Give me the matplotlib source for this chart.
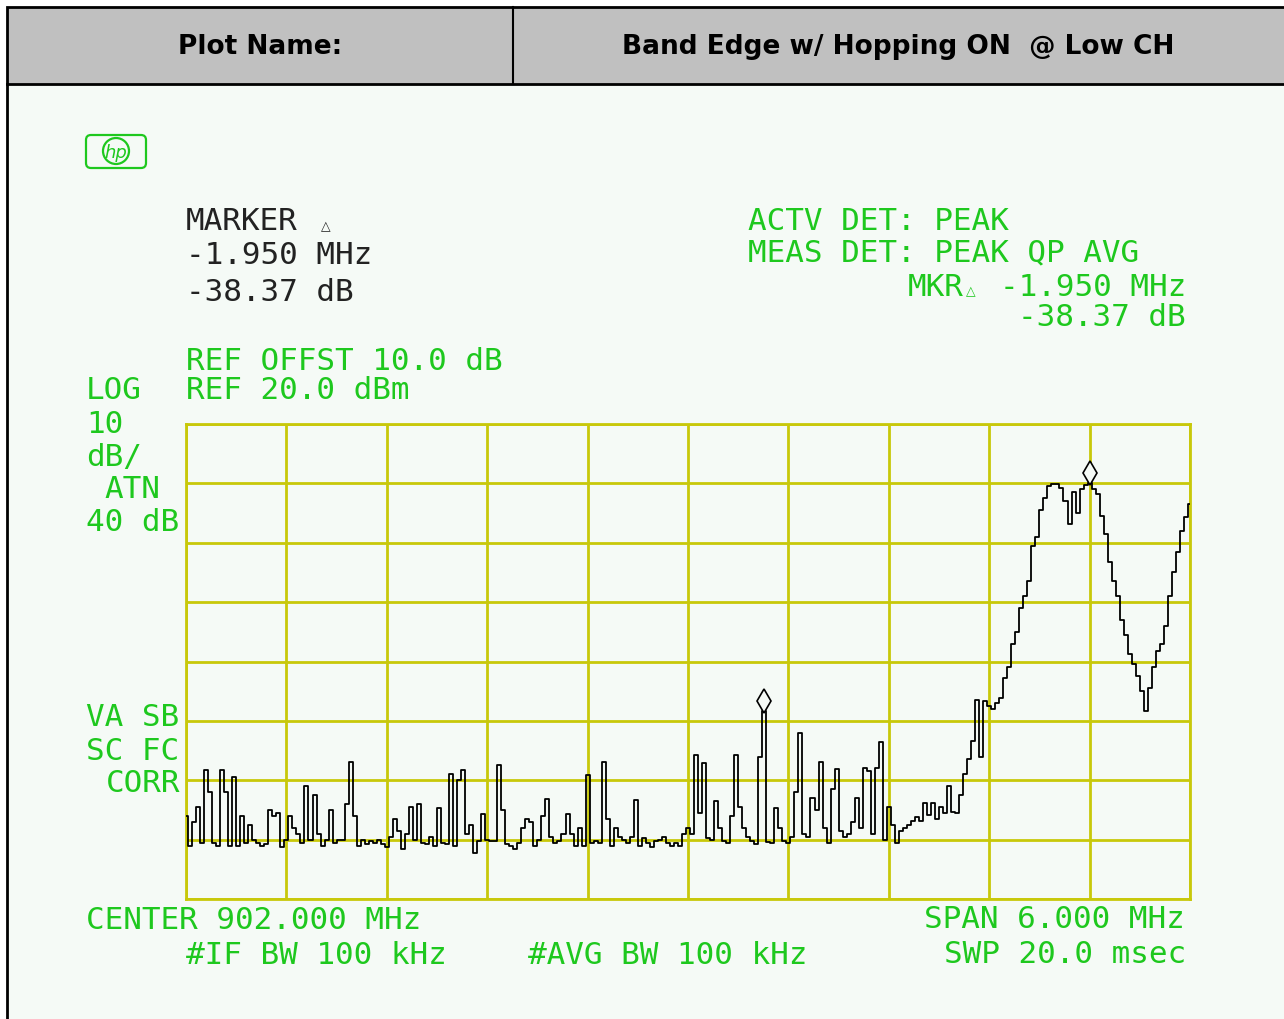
import numpy as np
import matplotlib
matplotlib.use('Agg')
import matplotlib.pyplot as plt
from matplotlib.patches import Rectangle, FancyBboxPatch, Circle

# spectrum trace (dBm), 251 sweep points across the span
trace_dbm = [
    -46, -51, -47, -44.5, -50.5, -38.2, -42, -50.5, -51, -38.2,
    -42, -51, -39.5, -51, -46, -50.5, -47.5, -50, -50.5, -51,
    -50.8, -45, -46, -45.5, -51.2, -50, -46, -48, -49, -50.5,
    -41, -50, -42.5, -49, -51, -50, -45, -50.5, -50, -50,
    -44, -36.9, -46, -51, -50, -50.8, -50.3, -50.5, -50, -50.7,
    -51.3, -49.5, -46.5, -48.5, -51.5, -49, -44.5, -50, -44, -50.5,
    -50.8, -49.5, -51,
    -44.6, -50.5, -50.8, -38.9, -51, -40, -38.2, -49, -47.5, -52.3,
    -50.3, -45.7, -50, -50.2, -50.3, -37.5, -45, -50.8, -51, -51.5,
    -50.5, -48, -46.5, -47, -51, -50, -46, -43.1, -49.5, -50.5,
    -50.2, -49, -45.7, -49, -51, -48, -51, -39.1, -50.5, -50.3,
    -50.5, -36.9, -46.5, -51, -48, -49.5, -50, -50.5, -49.5, -43.4,
    -51, -49.8, -50.5, -51.3, -50.2, -50, -49.5, -50.5, -51, -50.5,
    -51, -49,
    -48, -49, -35.7, -45.5, -37.1, -49.8, -50, -43.5, -48, -50.3,
    -50.5, -46, -35.7, -44.5, -48, -49.5, -50.2, -50.8, -36, -28.4,
    -50.4, -50.6, -44.6, -48, -50.3, -50.5, -49.6, -42, -32, -49.1,
    -49.5, -43, -45, -37, -48, -50.5, -41.5, -38.1, -48.5, -49.5,
    -49, -47, -43, -48, -37.9, -38.5, -49, -38, -33.5, -50,
    -44.5, -47.5, -50.5, -48.5, -48, -47.5, -46.8, -46.2, -46.8, -43.8,
    -45.8, -43.8, -46.5,
    -44.5, -45.5, -41, -45.3, -45.5, -42.5, -39, -36.5, -33.4, -26.4,
    -36, -26.6, -27.5, -28, -27, -26.1, -22.7, -21, -17, -15,
    -11, -8.9, -6.5, -0.5, 1, 5.5, 7.5, 9.5, 9.9, 9.9,
    9.3, 7, 3.1, 8.5, 5, 9, 9.8, 10.0, 9, 8.2,
    4.5, 1.5, -3.3, -6.5, -9, -13, -15.5, -18.7, -20.5, -22.5,
    -25, -28.3, -24.5, -21, -18.2, -17.1, -14, -9, -5, -1.5,
    2, 4.3, 6.5,
]
marker_idx = [144, 225]

center_mhz = 902.0
span_mhz = 6.0
ref_dbm = 20.0
db_per_div = 10.0

W, H = 1284, 1020
GREEN = '#1ec81e'
GRID = '#c8c80a'
BG = '#f5faf6'
DARK = '#222222'
MONO = 'DejaVu Sans Mono'

fig = plt.figure(figsize=(W / 100, H / 100), dpi=100)
fig.patch.set_facecolor('white')

# overlay in pixel coordinates for the frame and annotations
ov = fig.add_axes([0, 0, 1, 1], zorder=0)
ov.set_xlim(0, W)
ov.set_ylim(H, 0)
ov.axis('off')

ov.add_patch(Rectangle((8, 86), W - 8, H - 86, facecolor=BG, edgecolor='none'))
ov.add_patch(Rectangle((7, 8), W - 6, 77, facecolor='#c0c0c0', edgecolor='black', lw=2))
ov.plot([513, 513], [8, 85], color='black', lw=1.5)
ov.plot([7, 7], [85, H], color='black', lw=2)
ov.text(260, 47, 'Plot Name:', ha='center', va='center', fontsize=19,
        fontweight='bold', family='DejaVu Sans')
ov.text(898, 47, 'Band Edge w/ Hopping ON  @ Low CH', ha='center', va='center',
        fontsize=19, fontweight='bold', family='DejaVu Sans')

# hp logo
ov.add_patch(FancyBboxPatch((86, 136), 60, 33, boxstyle='round,pad=0,rounding_size=5',
                            facecolor='none', edgecolor=GREEN, lw=1.6))
ov.add_patch(Circle((116, 152), 13, facecolor='none', edgecolor=GREEN, lw=1.6))
ov.text(116, 153, 'hp', ha='center', va='center', color=GREEN, fontsize=13,
        style='italic', family='DejaVu Sans')


def label(x, y, s, color=GREEN, ha='left', size=22.3):
    ov.text(x, y, s, ha=ha, va='center', color=color, fontsize=size, family=MONO)


label(186, 221, 'MARKER', DARK)
ov.text(326, 227, '\u25b3', ha='center', va='center', color=DARK, fontsize=9, family='DejaVu Sans')
label(186, 256, '-1.950 MHz', DARK)
label(186, 293, '-38.37 dB', DARK)

label(748, 221, 'ACTV DET: PEAK')
label(748, 253, 'MEAS DET: PEAK QP AVG')
label(1186, 288, '-1.950 MHz', ha='right')
label(908, 288, 'MKR')
ov.text(971, 292, '\u25b3', ha='center', va='center', color=GREEN, fontsize=9, family='DejaVu Sans')
label(1186, 318, '-38.37 dB', ha='right')

label(186, 362, 'REF OFFST 10.0 dB')
label(86, 391, 'LOG')
label(186, 391, 'REF 20.0 dBm')
label(86, 425, '10')
label(86, 458, 'dB/')
label(104, 490, 'ATN')
label(86, 523, '40 dB')
label(86, 718, 'VA SB')
label(86, 752, 'SC FC')
label(106, 784, 'CORR')

label(86, 921, 'CENTER 902.000 MHz')
label(186, 956, '#IF BW 100 kHz')
label(528, 956, '#AVG BW 100 kHz')
label(1185, 920, 'SPAN 6.000 MHz', ha='right')
label(1186, 955, 'SWP 20.0 msec', ha='right')

# spectrum analyzer graticule
ax = fig.add_axes([186 / W, 1 - 900 / H, 1004 / W, 475 / H], zorder=1)
ax.set_facecolor('none')
f0 = center_mhz - span_mhz / 2
f1 = center_mhz + span_mhz / 2
freqs = np.linspace(f0, f1, len(trace_dbm))
bottom = ref_dbm - 8 * db_per_div

ax.set_xlim(f0, f1)
ax.set_ylim(bottom, ref_dbm)
ax.set_xticks(np.linspace(f0, f1, 11))
ax.set_yticks(np.arange(bottom, ref_dbm + 1, db_per_div))
ax.grid(True, color=GRID, lw=2)
ax.tick_params(length=0, labelbottom=False, labelleft=False)
for sp in ax.spines.values():
    sp.set_color(GRID)
    sp.set_linewidth(2)

ax.plot(freqs, trace_dbm, color='black', lw=1.3, drawstyle='steps-mid', zorder=3)
for i in marker_idx:
    ax.plot(freqs[i], trace_dbm[i] + 1.8, marker='d', ms=12, mfc=BG, mec='black',
            mew=1.2, zorder=4, clip_on=False)

fig.savefig('out.png', dpi=100)
